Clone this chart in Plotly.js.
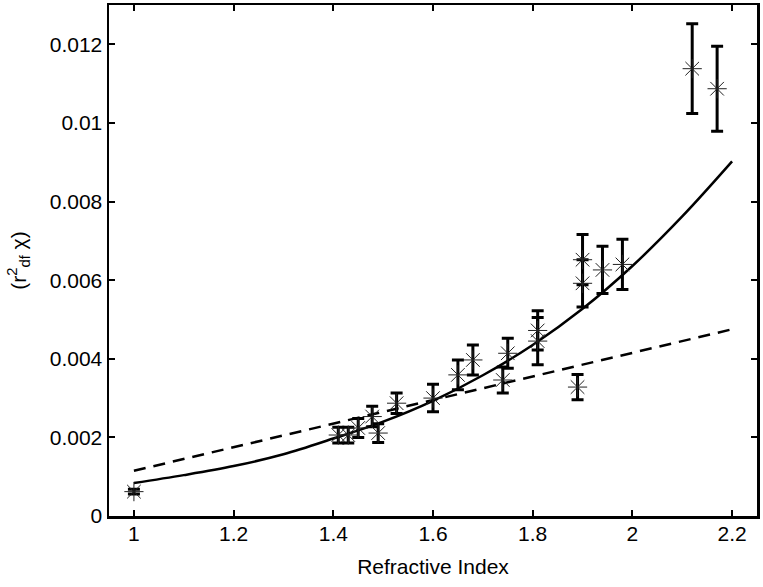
<!DOCTYPE html>
<html>
<head>
<meta charset="utf-8">
<script src="https://cdn.plot.ly/plotly-3.0.1.min.js"></script>
<style>html,body{margin:0;padding:0;background:#fff;}</style>
</head>
<body>
<div id="chart" style="width:763px;height:587px;"></div>
<script>
// Measured data points (refractive index, value, error)
const refIndex = [1.00, 1.41, 1.43, 1.45, 1.478, 1.49, 1.527, 1.60, 1.65, 1.68, 1.74, 1.75, 1.81, 1.81, 1.89, 1.90, 1.90, 1.94, 1.98, 2.12, 2.17];
const values   = [0.00062, 0.00206, 0.00206, 0.00224, 0.00253, 0.00211, 0.00287, 0.00300, 0.00359, 0.00397, 0.00346, 0.00414, 0.00472, 0.00445, 0.00328, 0.00652, 0.00592, 0.00626, 0.00640, 0.01138, 0.01087];
const errors   = [0.00006, 0.00020, 0.00020, 0.00024, 0.00026, 0.00024, 0.00026, 0.00035, 0.00038, 0.00038, 0.00033, 0.00038, 0.00050, 0.00060, 0.00032, 0.00064, 0.00060, 0.00060, 0.00064, 0.00114, 0.00108];

// Solid fitted curve
const curveX = [1.0, 1.1, 1.2, 1.3, 1.4, 1.5, 1.6, 1.7, 1.8, 1.9, 2.0, 2.1, 2.2];
const curveY = [0.00084, 0.00104, 0.00127, 0.00157, 0.00197, 0.00240, 0.00293, 0.00358, 0.00435, 0.00527, 0.00636, 0.00762, 0.00902];

// Dashed linear fit
const lineX = [1.0, 2.2];
const lineY = [0.00115, 0.00475];

// Tick labels
const xTickVals = [1, 1.2, 1.4, 1.6, 1.8, 2, 2.2];
const xTickText = ['1', '1.2', '1.4', '1.6', '1.8', '2', '2.2'];
const yTickVals = [0, 0.002, 0.004, 0.006, 0.008, 0.01, 0.012];
const yTickText = ['0', '0.002', '0.004', '0.006', '0.008', '0.01', '0.012'];

const FONT = 'Liberation Sans, Arial, Helvetica, sans-serif';

const traces = [
  {
    x: lineX, y: lineY, type: 'scatter', mode: 'lines',
    line: {color: '#000', width: 2.5, dash: '12px,8px'},
    hoverinfo: 'skip'
  },
  {
    x: curveX, y: curveY, type: 'scatter', mode: 'lines',
    line: {color: '#000', width: 2.5, shape: 'spline'},
    hoverinfo: 'skip'
  },
  {
    x: refIndex, y: values, type: 'scatter', mode: 'markers',
    marker: {symbol: 'asterisk-open', size: 16, color: '#222', line: {color: '#222', width: 1}},
    error_y: {type: 'data', array: errors, visible: true, color: '#000', thickness: 3, width: 6}
  }
];

const axisCommon = {
  showline: true, linecolor: '#000', linewidth: 2.5, mirror: 'ticks',
  ticks: 'inside', ticklen: 6, tickwidth: 2, tickcolor: '#000',
  showgrid: false, zeroline: false,
  tickfont: {family: FONT, size: 21, color: '#000'}
};

const layout = {
  width: 763, height: 587,
  margin: {l: 109, r: 6, t: 5, b: 71},
  paper_bgcolor: '#fff', plot_bgcolor: '#fff',
  showlegend: false,
  xaxis: Object.assign({}, axisCommon, {
    range: [0.95, 2.25],
    tickmode: 'array', tickvals: xTickVals, ticktext: xTickText,
    ticklabelstandoff: -3,
    title: {text: 'Refractive Index', font: {family: FONT, size: 21, color: '#000'}, standoff: 16}
  }),
  yaxis: Object.assign({}, axisCommon, {
    range: [0, 0.013],
    tickmode: 'array', tickvals: yTickVals, ticktext: yTickText,
    title: {text: '(r<sup>2</sup><sub>df</sub> χ)', font: {family: FONT, size: 21, color: '#000'}, standoff: 18}
  })
};

Plotly.newPlot('chart', traces, layout, {displayModeBar: false, staticPlot: true});
</script>
</body>
</html>
